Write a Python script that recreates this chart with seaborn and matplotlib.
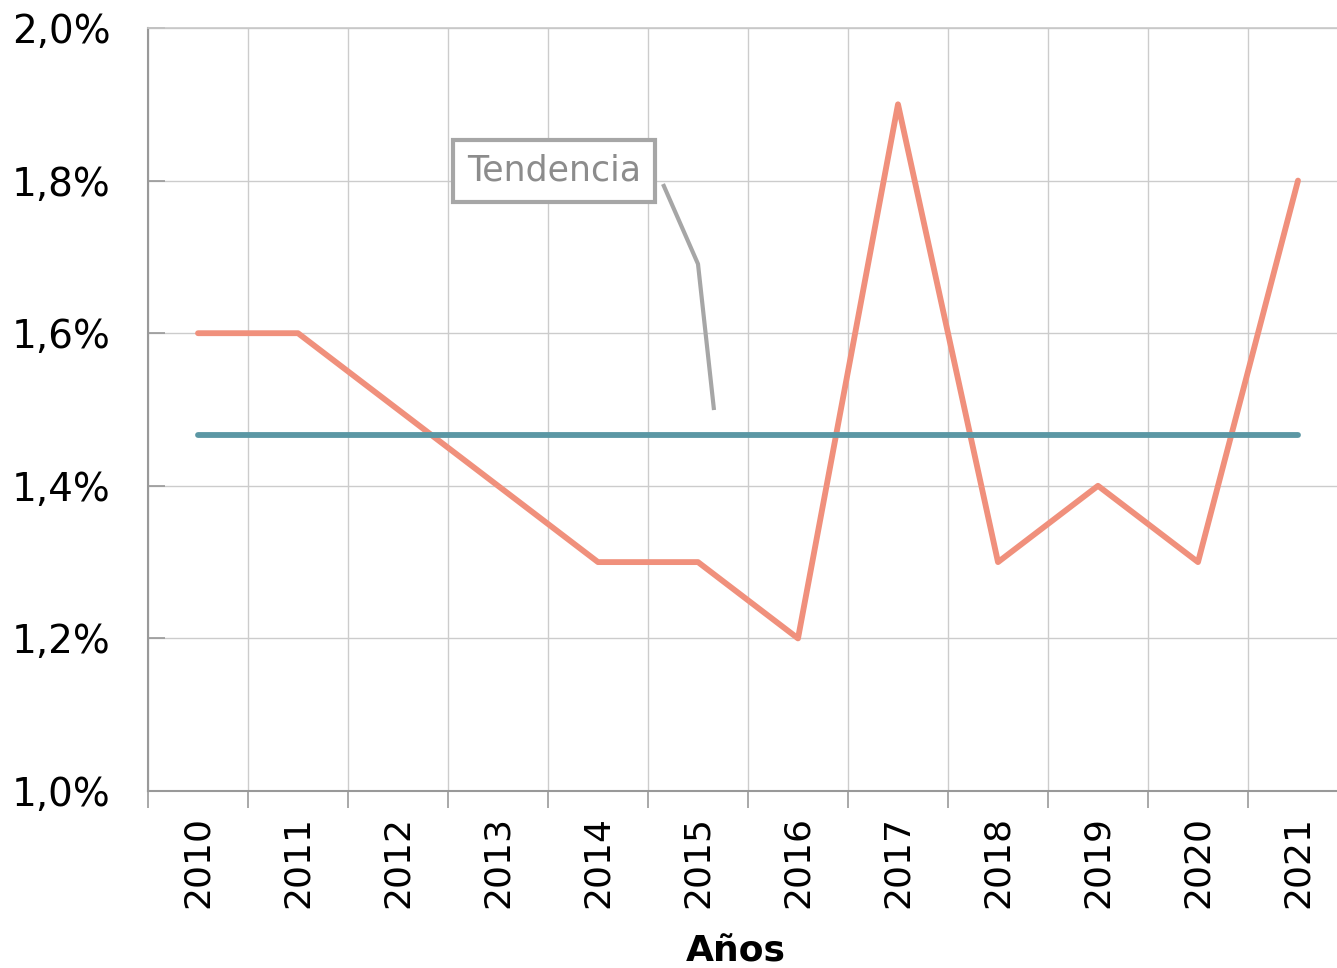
import numpy as np
import pandas as pd
import matplotlib
matplotlib.use("Agg")
import matplotlib.pyplot as plt
import seaborn as sns
from matplotlib.ticker import FixedLocator, FuncFormatter

#%% data
years = ["2010", "2011", "2012", "2013", "2014", "2015",
         "2016", "2017", "2018", "2019", "2020", "2021"]
values = [1.6, 1.6, 1.5, 1.4, 1.3, 1.3, 1.2, 1.9, 1.3, 1.4, 1.3, 1.8]
trend = [np.mean(values)] * len(values)   # tendencia = media

df = pd.DataFrame({"Año": years, "Valor": values, "Tendencia": trend})

#%% style
sns.set_theme(style="white")
plt.rcParams['font.family'] = ['DejaVu Sans']

fig = plt.figure(figsize=(13.37, 9.68), dpi=100)
# axes runs a little past the right edge, like the original
ax = fig.add_axes([148/1337, 177/968, 1200/1337, 763/968])

sns.lineplot(data=df, x="Año", y="Valor", color="#F0907C", linewidth=4.2, ax=ax)
sns.lineplot(data=df, x="Año", y="Tendencia", color="#5B97A4", linewidth=4.2, ax=ax)

ax.set_xlim(-0.5, len(years) - 0.5)
ax.set_ylim(1.0, 2.0)

# x: gridlines/ticks at category boundaries, labels centred
ax.xaxis.set_major_locator(FixedLocator(np.arange(-0.5, len(years), 1)))
ax.xaxis.set_minor_locator(FixedLocator(np.arange(len(years))))
ax.set_xticklabels([], minor=False)
ax.set_xticklabels(years, minor=True, rotation=90, fontsize=26, color="black")
ax.tick_params(axis="x", which="major", direction="out", length=12,
               width=1.2, color="#999999", bottom=True)
ax.tick_params(axis="x", which="minor", length=0, pad=18, bottom=True)

ax.set_yticks(np.arange(1.0, 2.01, 0.2))
ax.yaxis.set_major_formatter(FuncFormatter(lambda v, p: f"{v:.1f}%".replace(".", ",")))
ax.tick_params(axis="y", direction="in", length=12, width=1.2,
               color="#999999", labelsize=28, labelcolor="black", pad=27, left=True)

ax.grid(True, which="major", color="#cccccc", linewidth=1)
ax.set_axisbelow(True)

for side in ["left", "bottom"]:
    ax.spines[side].set_color("#999999")
    ax.spines[side].set_linewidth(1.5)
for side in ["top", "right"]:
    ax.spines[side].set_color("#c8c8c8")
    ax.spines[side].set_linewidth(1.2)

ax.set_xlabel("Años", fontsize=26, fontweight="bold", color="black")
ax.xaxis.set_label_coords((736 - 148) / 1200, -143 / 763)
ax.set_ylabel("")

# callout
ax.text(3.56, 1.8126, "Tendencia", fontsize=25, color="#8c8c8c",
        ha="center", va="center",
        bbox=dict(boxstyle="square,pad=0.4", facecolor="white",
                  edgecolor="#a6a6a6", linewidth=3))
ax.plot([4.65, 5.0, 5.16], [1.7955, 1.6907, 1.4993],
        color="#a6a6a6", linewidth=3, solid_capstyle="butt")

fig.savefig("out.png", dpi=100)
